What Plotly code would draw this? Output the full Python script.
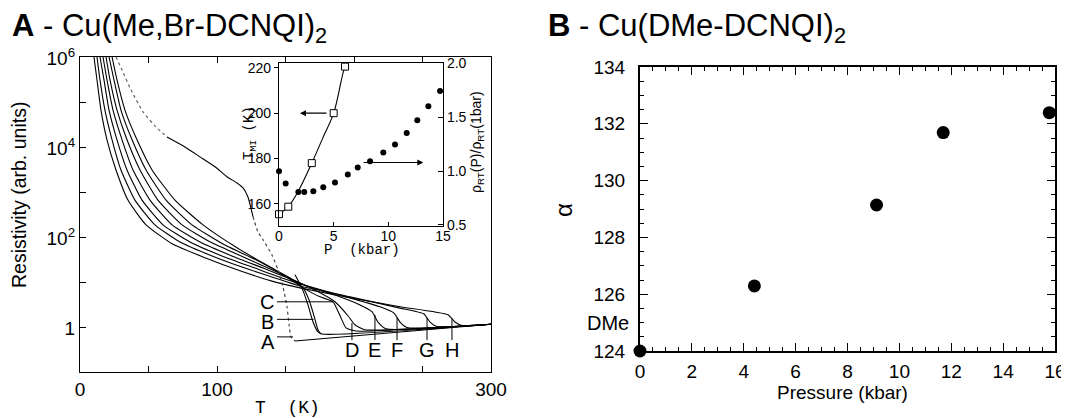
import plotly.graph_objects as go

# The page body has an 8px margin; all layout positions below are given in
# browser-window pixels and converted to paper fractions with that offset.
OFF = 8
W, H = 1069, 418
def fx(x): return (x - OFF) / W
def fy(y): return 1 - (y - OFF) / H

FONT = "Liberation Sans, Arial, sans-serif"
MONO = "Liberation Mono, Courier New, monospace"

# ---------------- Panel A : resistivity curves (T in K, log10 resistivity) ----------------
curve_H_T = [10.2, 12.4, 15.3, 19.7, 26.3, 35.0, 48.2, 67.2, 91.2, 116.8, 140.1, 160.6, 197.1, 233.6, 268.6, 273.7, 278.8, 300]
curve_H_L = [6.02, 5.51, 4.84, 4.18, 3.51, 2.84, 2.29, 1.87, 1.56, 1.27, 1.04, 0.89, 0.67, 0.47, 0.29, 0.13, 0.05, 0.08]
curve_G_T = [12.4, 14.6, 18.2, 23.4, 29.9, 40.1, 54.7, 73.0, 96.4, 120.4, 142.3, 160.6, 197.1, 233.6, 251.1, 255.5, 260.6, 300]
curve_G_L = [6.02, 5.51, 4.84, 4.18, 3.51, 2.84, 2.29, 1.91, 1.60, 1.33, 1.11, 0.93, 0.69, 0.44, 0.31, 0.13, 0.03, 0.08]
curve_F_T = [14.6, 17.5, 21.2, 27.0, 34.3, 45.3, 60.6, 80.3, 103.6, 127.7, 147.4, 162.8, 189.8, 219.0, 229.2, 233.6, 238.7, 300]
curve_F_L = [6.02, 5.51, 4.84, 4.18, 3.51, 2.84, 2.29, 1.91, 1.60, 1.33, 1.11, 0.96, 0.73, 0.47, 0.33, 0.13, 0.01, 0.08]
curve_E_T = [16.8, 19.7, 24.1, 30.7, 38.7, 51.1, 67.2, 87.6, 110.9, 133.6, 151.8, 165.7, 186.1, 204.4, 213.1, 217.5, 223.4, 300]
curve_E_L = [6.02, 5.51, 4.84, 4.18, 3.51, 2.84, 2.29, 1.91, 1.60, 1.33, 1.11, 0.93, 0.73, 0.51, 0.36, 0.13, -0.02, 0.08]
curve_D_T = [19.0, 21.9, 27.0, 34.3, 43.8, 56.9, 74.5, 96.4, 120.4, 140.1, 155.5, 171.5, 186.1, 195.6, 200.7, 208.0, 300]
curve_D_L = [6.02, 5.51, 4.84, 4.18, 3.51, 2.84, 2.29, 1.89, 1.56, 1.29, 1.07, 0.84, 0.58, 0.27, 0.07, -0.04, 0.08]
curve_C_T = [21.2, 24.8, 29.9, 38.0, 48.2, 62.8, 81.8, 105.8, 129.9, 148.2, 162.8, 175.2, 184.7, 189.8, 194.2, 201.5, 300]
curve_C_L = [6.02, 5.51, 4.84, 4.18, 3.51, 2.84, 2.29, 1.84, 1.49, 1.18, 0.89, 0.69, 0.58, 0.27, 0.00, -0.07, 0.08]
curve_B_T = [23.4, 27.0, 32.8, 41.6, 52.6, 69.3, 89.8, 114.6, 137.2, 153.3, 162.8, 167.2, 170.8, 173.7, 175.9, 300]
curve_B_L = [6.02, 5.51, 4.84, 4.18, 3.51, 2.84, 2.29, 1.78, 1.38, 1.11, 0.89, 0.62, 0.27, -0.04, -0.13, 0.08]
curve_B2_T = [156.9, 162.0, 166.4, 170.1, 173.7, 175.9]
curve_B2_L = [1.18, 0.89, 0.51, 0.13, -0.09, -0.13]
curve_A1_T = [26.3, 30.7, 37.2, 46.0, 54.7, 63.5]
curve_A1_L = [6.02, 5.73, 5.29, 4.80, 4.49, 4.24]
curve_A2_T = [63.5, 76.6, 87.6, 98.5, 107.3, 114.6, 119.0, 122.6, 126.3]
curve_A2_L = [4.24, 4.02, 3.80, 3.58, 3.36, 3.22, 3.11, 2.91, 2.47]
curve_A3_T = [126.3, 129.9, 133.6, 140.1, 144.5, 148.2, 151.1, 152.6, 154.0, 156.9]
curve_A3_L = [2.47, 2.13, 1.96, 1.62, 1.29, 0.91, 0.47, 0.07, -0.20, -0.29]
curve_A4_T = [156.9, 300]
curve_A4_L = [-0.29, 0.08]

# curve labels: side labels (A, B, C) with horizontal leaders, bottom labels (D..H) with vertical leaders
side_labels = ["C", "B", "A"]
side_label_T = [136.5, 136.5, 137.2]
side_label_L = [0.58, 0.13, -0.32]
side_leader_T0 = [143.8, 143.8, 143.8]
side_leader_T1 = [184.7, 170.5, 155.5]
side_leader_L = [0.58, 0.19, -0.20]
bottom_labels = ["D", "E", "F", "G", "H"]
bottom_label_T = [198.5, 215.3, 231.4, 253.3, 271.5]
bottom_leader_Ltop = [0.11, 0.29, 0.22, 0.22, 0.20]
bottom_leader_Lbot = -0.27
bottom_label_L = -0.50

# ---------------- Inset : T_MI and rho ratio vs pressure ----------------
tmi_P = [0, 0.85, 3.0, 5.0, 6.04]
tmi_T = [155.5, 158.8, 178.0, 200.0, 220.5]
tmi_curve_P = [0, 0.85, 1.74, 3.0, 4.0, 5.0, 6.04, 6.3]
tmi_curve_T = [155.5, 158.8, 165.4, 178.0, 189.0, 200.0, 220.5, 222.1]
rho_P = [0, 0.61, 1.77, 2.31, 3.14, 4.05, 5.12, 6.29, 7.20, 8.33, 9.54, 10.61, 11.68, 12.65, 13.66, 14.73]
rho_ratio = [1.0, 0.886, 0.805, 0.805, 0.814, 0.849, 0.895, 0.969, 1.034, 1.092, 1.173, 1.247, 1.355, 1.472, 1.602, 1.744]

# ---------------- Panel B : alpha vs pressure ----------------
b_pressure = [0, 4.41, 9.12, 11.69, 15.78]
b_alpha = [124.0, 126.29, 129.14, 131.69, 132.39]

fig = go.Figure()

def add_curve(T, L, dash="solid", color="black", width=1.1):
    fig.add_trace(go.Scatter(x=T, y=[10 ** v for v in L], mode="lines",
                             line=dict(color=color, width=width, dash=dash, shape="spline", smoothing=0.5),
                             xaxis="x", yaxis="y", showlegend=False, hoverinfo="skip"))

for T, L in [(curve_H_T, curve_H_L), (curve_G_T, curve_G_L), (curve_F_T, curve_F_L),
             (curve_E_T, curve_E_L), (curve_D_T, curve_D_L), (curve_C_T, curve_C_L),
             (curve_B_T, curve_B_L), (curve_B2_T, curve_B2_L), (curve_A2_T, curve_A2_L),
             (curve_A4_T, curve_A4_L)]:
    add_curve(T, L)
add_curve(curve_A1_T, curve_A1_L, dash="dot", color="#666666", width=1.2)
add_curve(curve_A3_T, curve_A3_L, dash="dot", color="#444444", width=1.2)

# leaders
for t0, t1, l in zip(side_leader_T0, side_leader_T1, side_leader_L):
    fig.add_trace(go.Scatter(x=[t0, t1], y=[10 ** l, 10 ** l], mode="lines",
                             line=dict(color="black", width=1), xaxis="x", yaxis="y",
                             showlegend=False, hoverinfo="skip"))
for t, lt in zip(bottom_label_T, bottom_leader_Ltop):
    fig.add_trace(go.Scatter(x=[t, t], y=[10 ** lt, 10 ** bottom_leader_Lbot], mode="lines",
                             line=dict(color="black", width=1), xaxis="x", yaxis="y",
                             showlegend=False, hoverinfo="skip"))

# inset traces
fig.add_trace(go.Scatter(x=tmi_curve_P, y=tmi_curve_T, mode="lines",
                         line=dict(color="black", width=1.1, shape="spline"),
                         xaxis="x3", yaxis="y3", showlegend=False, hoverinfo="skip"))
fig.add_trace(go.Scatter(x=tmi_P, y=tmi_T, mode="markers",
                         marker=dict(symbol="square", size=7, color="white", line=dict(color="black", width=1)),
                         xaxis="x3", yaxis="y3", showlegend=False, cliponaxis=False))
fig.add_trace(go.Scatter(x=rho_P, y=rho_ratio, mode="markers",
                         marker=dict(symbol="circle", size=6, color="black"),
                         xaxis="x3", yaxis="y4", showlegend=False, cliponaxis=False))

# panel B traces
edge = [i for i, p in enumerate(b_pressure) if p == 0]
inner = [i for i, p in enumerate(b_pressure) if p != 0]
fig.add_trace(go.Scatter(x=[b_pressure[i] for i in inner], y=[b_alpha[i] for i in inner], mode="markers",
                         marker=dict(size=13, color="black"), xaxis="x2", yaxis="y2",
                         showlegend=False, cliponaxis=True))
fig.add_trace(go.Scatter(x=[b_pressure[i] for i in edge], y=[b_alpha[i] for i in edge], mode="markers",
                         marker=dict(size=13, color="black"), xaxis="x2", yaxis="y2",
                         showlegend=False, cliponaxis=False))

axis_common = dict(showgrid=False, zeroline=False, showline=True, linecolor="black", automargin=False,
                   tickcolor="black", tickfont=dict(family=FONT, size=19, color="black"))

main_x_ticks = [0, 50, 100, 150, 200, 250, 300]
main_x_text = ["0", "", "100", "", "", "", "300"]
main_y_ticks = [1, 10, 100, 1e3, 1e4, 1e5, 1e6]
main_y_text = ["1", "", "10<sup>2</sup>", "", "10<sup>4</sup>", "", "10<sup>6</sup>"]
inset_font = dict(family=FONT, size=14, color="black")
b_font = dict(family=FONT, size=19, color="black")

fig.update_layout(
    width=W, height=H, autosize=False,
    margin=dict(l=0, r=0, t=0, b=0, pad=0, autoexpand=False),
    paper_bgcolor="white", plot_bgcolor="white",
    xaxis=dict(axis_common, domain=[fx(80), fx(491)], anchor="y", range=[0, 300],
               tickvals=main_x_ticks, ticktext=main_x_text, ticks="inside", ticklen=6,
               mirror="ticks", linewidth=1.3),
    yaxis=dict(axis_common, domain=[fy(372), fy(57)], anchor="x", type="log", range=[-0.98, 6.02],
               tickvals=main_y_ticks, ticktext=main_y_text, ticks="inside", ticklen=6,
               mirror=True, linewidth=1.3),
    xaxis3=dict(axis_common, domain=[fx(279), fx(443)], anchor="y3", range=[0, 15],
                tickvals=[0, 5, 10, 15], ticks="inside", ticklen=4, mirror=True, linewidth=1.2,
                tickfont=inset_font, ticklabelstandoff=-3),
    yaxis3=dict(axis_common, domain=[fy(226), fy(63)], anchor="x3", range=[150.3, 222.1],
                tickvals=[160, 180, 200, 220], ticks="outside", ticklen=4, linewidth=1.2,
                tickfont=inset_font),
    yaxis4=dict(axis_common, overlaying="y3", side="right", anchor="x3", range=[0.49, 2.005],
                tickvals=[0.5, 1.0, 1.5, 2.0], ticktext=["0.5", "1.0", "1.5", "2.0"],
                ticks="inside", ticklen=5, linewidth=1.2, tickfont=inset_font),
    xaxis2=dict(axis_common, domain=[fx(640), fx(1055)], anchor="y2", range=[0, 16],
                tickvals=list(range(0, 17, 2)), ticks="inside", ticklen=8, mirror="ticks", linewidth=2,
                tickfont=b_font, ticklabelstandoff=2,
                minor=dict(dtick=0.5, ticklen=4, ticks="inside", tickcolor="black")),
    yaxis2=dict(axis_common, domain=[fy(351), fy(67)], anchor="x2", range=[124, 134],
                tickvals=list(range(124, 135, 2)), ticks="inside", ticklen=8, mirror="ticks", linewidth=2,
                tickfont=b_font, ticklabelstandoff=9,
                minor=dict(dtick=0.5, ticklen=4, ticks="inside", tickcolor="black")),
)

ann = []
def paper_text(text, x, y, size, family=FONT, angle=0, xanchor="center"):
    ann.append(dict(text=text, x=fx(x), y=fy(y), xref="paper", yref="paper", showarrow=False,
                    textangle=angle, xanchor=xanchor, yanchor="middle",
                    font=dict(family=family, size=size, color="black")))

paper_text("<b>A</b> - Cu(Me,Br-DCNQI)<sub>2</sub>", 10, 28, 31, xanchor="left")
paper_text("<b>B</b> - Cu(DMe-DCNQI)<sub>2</sub>", 546, 28, 31, xanchor="left")
paper_text("Resistivity (arb. units)", 19, 195, 19.5, angle=-90)
paper_text("T\u00a0\u00a0(K)", 287, 408, 18, family=MONO)
paper_text("P\u00a0\u00a0(kbar)", 362, 250, 14, family=MONO)
paper_text("T<sub>MI</sub>\u00a0(K)", 250, 133, 14, family=MONO, angle=-90)
paper_text("\u03c1<sub>RT</sub>(P)/\u03c1<sub>RT</sub>(1bar)", 477, 142, 14, angle=-90)
paper_text("\u03b1", 563, 210, 24, angle=-90)
paper_text("Pressure (kbar)", 842, 392, 19)
paper_text("DMe", 631, 323, 20, xanchor="right")

for name, t, l in zip(side_labels, side_label_T, side_label_L):
    ann.append(dict(text=name, x=t, y=l, xref="x", yref="y", showarrow=False,
                    font=dict(family=FONT, size=20, color="black")))
for name, t in zip(bottom_labels, bottom_label_T):
    ann.append(dict(text=name, x=t, y=bottom_label_L, xref="x", yref="y", showarrow=False,
                    font=dict(family=FONT, size=20, color="black")))

# inset arrows
ann.append(dict(x=1.92, y=200, ax=4.48, ay=200, xref="x3", yref="y3", axref="x3", ayref="y3",
                text="", showarrow=True, arrowhead=2, arrowsize=1, arrowwidth=1.2, arrowcolor="black"))
ann.append(dict(x=13.2, y=1.08, ax=7.6, ay=1.08, xref="x3", yref="y4", axref="x3", ayref="y4",
                text="", showarrow=True, arrowhead=2, arrowsize=1, arrowwidth=1.2, arrowcolor="black"))

fig.update_layout(annotations=ann)
fig.write_html("out.html",
               post_script="document.documentElement.style.overflow='hidden';"
                           "document.body.style.overflow='hidden';")
